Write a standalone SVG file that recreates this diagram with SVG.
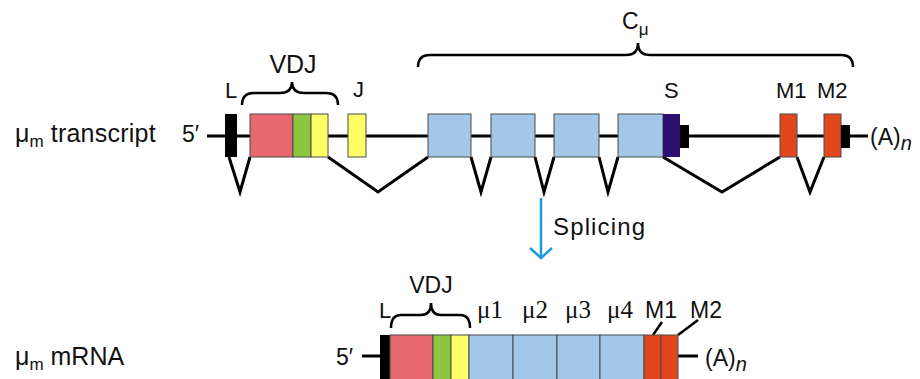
<svg xmlns="http://www.w3.org/2000/svg" width="920" height="379" viewBox="0 0 920 379">
<style>
text{font-family:"Liberation Sans",Arial,sans-serif;fill:#111;}
.lbl{font-size:22px;}
.big{font-size:25px;}
.sub{font-size:17px;}
.ser{font-family:"Liberation Serif","Times New Roman",serif;font-size:25px;}
.ln{stroke:#000;stroke-width:3;fill:none;stroke-linejoin:miter;}
.br{stroke:#000;stroke-width:2.5;fill:none;}
.bx{stroke:#4a4a4a;stroke-width:1;}
.red{fill:#e8686f;}
.grn{fill:#8dc641;}
.yel{fill:#ffff66;}
.blu{fill:#a3c7e6;}
.pur{fill:#2b1070;}
.org{fill:#e2461c;}
.blk{fill:#000;}
</style>
<rect width="920" height="379" fill="#fff"/>

<g id="connectors">
  <!-- transcript backbone -->
  <line class="ln" x1="207" y1="136" x2="868" y2="136"/>
  <!-- splice V's -->
  <polyline class="ln" points="229,157 240,192 250,157"/>
  <polyline class="ln" points="328,157 378,192 428,157"/>
  <polyline class="ln" points="471,157 481,192 491,157"/>
  <polyline class="ln" points="535,157 544,192 554,157"/>
  <polyline class="ln" points="599,157 608,192 618,157"/>
  <polyline class="ln" points="663,157 722,192 780,157"/>
  <polyline class="ln" points="797,157 810,192 824,157"/>
  <!-- splicing arrow -->
  <line x1="541" y1="198" x2="541" y2="257" stroke="#1d9ad9" stroke-width="2.5"/>
  <polyline points="530,248 541,258 552,248" fill="none" stroke="#1d9ad9" stroke-width="2.5"/>
  <!-- mRNA backbone -->
  <line class="ln" x1="362" y1="356" x2="381" y2="356"/>
  <line class="ln" x1="678" y1="356" x2="698" y2="356"/>
  <!-- M1/M2 leaders -->
  <line x1="662" y1="322" x2="653" y2="335" stroke="#000" stroke-width="2.5"/>
  <line x1="698" y1="320" x2="678" y2="335" stroke="#000" stroke-width="2.5"/>
</g>

<g id="braces">
  <path class="br" d="M242,105 Q242,93 254,93 L280,93 Q292,93 292,82 Q292,93 304,93 L326,93 Q338,93 338,105"/>
  <path class="br" d="M418,67 Q418,55 430,55 L626,55 Q638,55 638,43 Q638,55 650,55 L841,55 Q853,55 853,67"/>
  <path class="br" d="M391,328 Q391,315 401,315 L421,315 Q431,315 431,303 Q431,315 441,315 L460,315 Q470,315 470,328"/>
</g>

<g id="transcript">
  <text x="15" y="142" class="big">μ<tspan class="sub" dy="5">m</tspan><tspan dy="-5" textLength="112"> transcript</tspan></text>
  <text x="182" y="142" style="font-size:23px">5′</text>
  <g id="t-L"><rect class="blk" x="225" y="114" width="12" height="43"/><text x="225" y="98" class="lbl">L</text></g>
  <g id="t-VDJ">
    <rect class="bx red" x="250" y="114" width="43" height="43"/>
    <rect class="bx grn" x="293" y="114" width="18" height="43"/>
    <rect class="bx yel" x="311" y="114" width="17" height="43"/>
    <text x="293" y="73" class="big" text-anchor="middle">VDJ</text>
  </g>
  <g id="t-J"><rect class="bx yel" x="348" y="114" width="18" height="43"/><text x="353" y="97" class="lbl">J</text></g>
  <g id="t-C1"><rect class="bx blu" x="428" y="114" width="43" height="43"/></g>
  <g id="t-C2"><rect class="bx blu" x="491" y="114" width="44" height="43"/></g>
  <g id="t-C3"><rect class="bx blu" x="554" y="114" width="45" height="43"/></g>
  <g id="t-C4"><rect class="bx blu" x="618" y="114" width="45" height="43"/></g>
  <g id="t-S"><rect class="pur" x="663" y="114" width="17" height="43"/><rect class="blk" x="680" y="125" width="9" height="23"/><text x="664" y="98" class="lbl">S</text></g>
  <g id="t-M1"><rect class="bx org" x="780" y="114" width="17" height="43"/><text x="776" y="98" class="lbl">M1</text></g>
  <g id="t-M2"><rect class="bx org" x="824" y="114" width="17" height="43"/><rect class="blk" x="841" y="125" width="9" height="23"/><text x="817" y="98" class="lbl">M2</text></g>
  <g id="t-Cmu"><text x="622" y="29" style="font-size:23px">C<tspan style="font-size:17px" dy="6">μ</tspan></text></g>
  <g id="t-polyA"><text x="870" y="145" style="font-size:23px">(A)<tspan style="font-style:italic;font-size:20px" dy="5">n</tspan></text></g>
</g>

<g id="splicing"><text x="553" y="235" style="font-size:24px" textLength="92">Splicing</text></g>

<g id="mrna">
  <text x="15" y="365" class="big">μ<tspan class="sub" dy="5">m</tspan><tspan dy="-5"> mRNA</tspan></text>
  <text x="336" y="365" style="font-size:23px">5′</text>
  <g id="m-L"><rect class="blk" x="380" y="335" width="10" height="50"/><text x="379" y="318" style="font-size:22px">L</text></g>
  <g id="m-VDJ">
    <rect class="bx red" x="390" y="335" width="43" height="50"/>
    <rect class="bx grn" x="433" y="335" width="18" height="50"/>
    <rect class="bx yel" x="451" y="335" width="18" height="50"/>
    <text x="431" y="293" style="font-size:23px" text-anchor="middle">VDJ</text>
  </g>
  <g id="m-mu1"><rect class="bx blu" x="469" y="335" width="44" height="50"/><text x="477" y="318" class="ser">μ1</text></g>
  <g id="m-mu2"><rect class="bx blu" x="513" y="335" width="44" height="50"/><text x="522" y="318" class="ser">μ2</text></g>
  <g id="m-mu3"><rect class="bx blu" x="557" y="335" width="43" height="50"/><text x="565" y="318" class="ser">μ3</text></g>
  <g id="m-mu4"><rect class="bx blu" x="600" y="335" width="44" height="50"/><text x="607" y="318" class="ser">μ4</text></g>
  <g id="m-M1"><rect class="bx org" x="644" y="335" width="17" height="50"/><text x="645" y="318" style="font-size:23px">M1</text></g>
  <g id="m-M2"><rect class="bx org" x="661" y="335" width="17" height="50"/><text x="690" y="318" style="font-size:23px">M2</text></g>
  <g id="m-polyA"><text x="705" y="366" style="font-size:23px">(A)<tspan style="font-style:italic;font-size:20px" dy="5">n</tspan></text></g>
</g>
</svg>
